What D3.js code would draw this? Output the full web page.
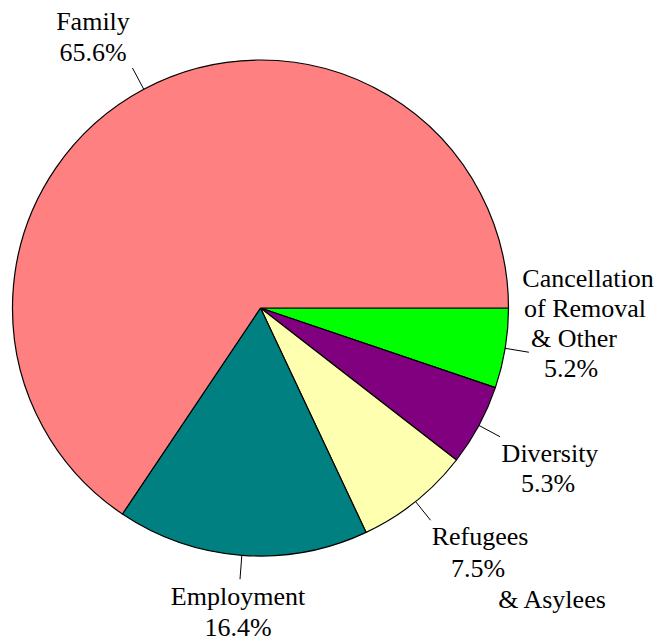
<!DOCTYPE html>
<html>
<head>
<meta charset="utf-8">
<script src="https://cdn.jsdelivr.net/npm/d3@7"></script>
<style>
  body { margin: 0; background: #fff; }
  text { font-family: "Liberation Serif", "Times New Roman", serif; font-size: 26px; fill: #000; }
</style>
</head>
<body>
<div id="canvas"></div>
<script>
"use strict"

/* Data: share of admissions by category (clockwise from 3 o'clock) */
let categories = ["Cancellation of Removal & Other", "Diversity", "Refugees & Asylees", "Employment", "Family"];
let shares = [5.2, 5.3, 7.5, 16.4, 65.6];
let colors = ["#00ff00", "#800080", "#ffffb0", "#008080", "#ff8080"];

/* Label text lines for each slice */
let labelLines = [
  ["Cancellation", "of Removal", "& Other", "5.2%"],
  ["Diversity", "5.3%"],
  ["Refugees", "7.5%", "& Asylees"],
  ["Employment", "16.4%"],
  ["Family", "65.6%"]
];

/* Drawing config */
let svgWidth = 660;
let svgHeight = 642;
let cx = 260.5;
let cy = 308;
let radius = 248;
let leaderLen = 24;

// label line placement: [x center, baseline y] for each line
let labelPos = [
  [[588, 287], [585, 317], [574, 347], [571, 377]],
  [[550, 462], [548, 492]],
  [[480, 545], [478, 577], [552, 608]],
  [[238, 605], [238, 636]],
  [[93, 30], [93, 61]]
];

let svg = d3.select("#canvas")
  .append("svg")
  .attr("width", svgWidth)
  .attr("height", svgHeight);

let g = svg.append("g")
  .attr("transform", "translate(" + cx + "," + cy + ")");

let pie = d3.pie()
  .sort(null)
  .value(function(d) { return d; })
  .startAngle(Math.PI / 2)
  .endAngle(Math.PI / 2 + 2 * Math.PI);

let arcs = pie(shares);

let arc = d3.arc()
  .innerRadius(0)
  .outerRadius(radius);

g.selectAll("path.slice")
  .data(arcs)
  .enter()
  .append("path")
  .attr("class", "slice")
  .attr("d", arc)
  .attr("fill", function(d, i) { return colors[i]; })
  .attr("stroke", "#000")
  .attr("stroke-width", 1.2)
  .attr("stroke-linejoin", "round");

// radial leader lines
g.selectAll("line.leader")
  .data(arcs)
  .enter()
  .append("line")
  .attr("class", "leader")
  .attr("x1", function(d) { let a = (d.startAngle + d.endAngle) / 2; return Math.sin(a) * radius; })
  .attr("y1", function(d) { let a = (d.startAngle + d.endAngle) / 2; return -Math.cos(a) * radius; })
  .attr("x2", function(d) { let a = (d.startAngle + d.endAngle) / 2; return Math.sin(a) * (radius + leaderLen); })
  .attr("y2", function(d) { let a = (d.startAngle + d.endAngle) / 2; return -Math.cos(a) * (radius + leaderLen); })
  .attr("stroke", "#000")
  .attr("stroke-width", 1);

// labels
for (let i = 0; i < labelLines.length; i = i + 1) {
  for (let j = 0; j < labelLines[i].length; j = j + 1) {
    svg.append("text")
      .attr("x", labelPos[i][j][0])
      .attr("y", labelPos[i][j][1])
      .attr("text-anchor", "middle")
      .text(labelLines[i][j]);
  }
}
</script>
</body>
</html>
